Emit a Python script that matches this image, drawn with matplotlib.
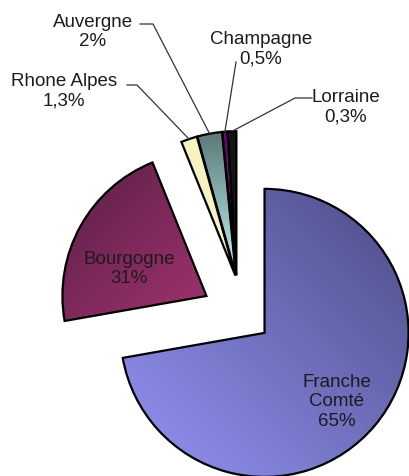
import matplotlib.pyplot as plt
import numpy as np
from matplotlib.colors import to_rgb

plt.rcParams['font.family'] = ['Liberation Sans', 'DejaVu Sans']

# regions, printed shares and the arc each wedge gets in the picture
regions = ['Franche\nComté', 'Bourgogne', 'Rhone Alpes', 'Auvergne', 'Champagne', 'Lorraine']
shares = ['65%', '31%', '1,3%', '2%', '0,5%', '0,3%']
arc_deg = [260, 78, 6.5, 10, 2, 3.5]
explode = [0.15, 0.33, 0.3, 0.3, 0.3, 0.3]

# gradient start / end colours and direction
col_a = ['#9494f6', '#5a1f46', '#f7f3c2', '#5c7878', '#7a007a', '#141414']
col_b = ['#4c4c86', '#a0336e', '#f7f3c2', '#bff4f4', '#8a108a', '#141414']
grad_dir = [(1, 1), (1, -1), (0, 1), (0, -1), (0, -1), (0, 1)]

W, H = 409, 477
CX, CY, R = 248, 320, 144   # pie centre and radius in image pixels


def px(x, y):
    # image pixel -> data coords (pie radius = 1)
    return (x - CX) / R, (CY - y) / R


fig = plt.figure(figsize=(W / 100, H / 100), dpi=100)
ax = fig.add_axes([0, 0, 1, 1])

wedges, _ = ax.pie(arc_deg, explode=explode, startangle=90, counterclock=False,
                   radius=1, wedgeprops=dict(edgecolor='black', linewidth=1.6,
                                             facecolor='none'))

# the four small slices are pulled out together, with a thin gap between them
grp = np.deg2rad(106)
gx0, gy0 = 0.29 * np.cos(grp), 0.29 * np.sin(grp)
for w in wedges[2:]:
    th = np.deg2rad((w.theta1 + w.theta2) / 2)
    w.set_center((gx0 + 0.025 * np.cos(th), gy0 + 0.025 * np.sin(th)))

for w, ca, cb, d in zip(wedges, col_a, col_b, grad_dir):
    w.set_zorder(3)
    ext = w.get_path().get_extents()
    n = 200
    xs = np.linspace(ext.x0, ext.x1, n)
    ys = np.linspace(ext.y0, ext.y1, n)
    gx, gy = np.meshgrid(xs, ys)
    t = gx * d[0] + gy * d[1]
    t = (t - t.min()) / max(t.max() - t.min(), 1e-9)
    a, b = np.array(to_rgb(ca)), np.array(to_rgb(cb))
    img = a[None, None, :] * (1 - t[..., None]) + b[None, None, :] * t[..., None]
    im = ax.imshow(img, extent=(ext.x0, ext.x1, ext.y0, ext.y1), origin='lower',
                   aspect='auto', interpolation='bilinear', zorder=2)
    im.set_clip_path(w)

txt = dict(fontsize=13.5, color='#1c1c1c', ha='center', va='center')

# labels inside the two big wedges
ax.text(*px(337, 402), regions[0] + '\n' + shares[0], **txt)
ax.text(*px(129, 269), regions[1] + '\n' + shares[1], **txt)

# outside labels with leader lines: text centre, line start, elbow
outside = {
    2: ((64, 91), (127, 86), (137, 86)),
    3: ((93, 32), (140, 25), (153, 25)),
    4: ((261, 49), (236, 63), (236, 63)),
    5: ((346, 107), (312, 99), (295, 99)),
}
for i, (tpos, start, elbow) in outside.items():
    ax.text(*px(*tpos), regions[i] + '\n' + shares[i], **txt)
    w = wedges[i]
    th = np.deg2rad((w.theta1 + w.theta2) / 2)
    tip = (w.center[0] + w.r * np.cos(th), w.center[1] + w.r * np.sin(th))
    p0, p1 = px(*start), px(*elbow)
    ax.plot([p0[0], p1[0], tip[0]], [p0[1], p1[1], tip[1]],
            color='#333333', lw=0.9, zorder=4)

ax.set_xlim(-CX / R, (W - CX) / R)
ax.set_ylim((CY - H) / R, CY / R)
ax.set_aspect('equal')
ax.axis('off')

fig.savefig('out.png', dpi=100, facecolor='white')
